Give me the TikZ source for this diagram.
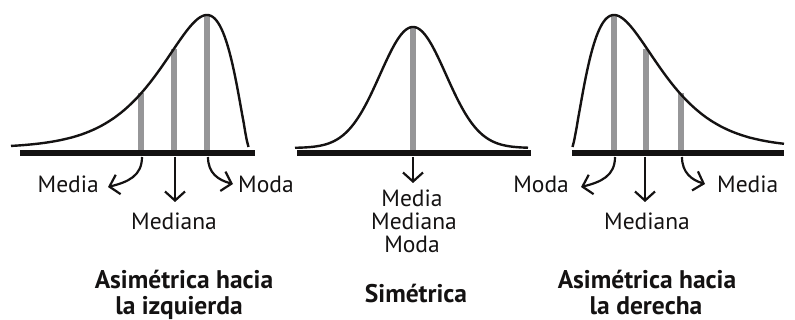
\documentclass[tikz,border=0pt]{standalone}
\usepackage{fontspec}
\setmainfont{PT Sans}
\usetikzlibrary{arrows.meta}
\definecolor{markgray}{RGB}{150,150,152}
\definecolor{inkblack}{RGB}{20,18,18}
\begin{document}
\begin{tikzpicture}[x=1pt,y=-1pt,
  curve/.style={line width=2.4pt, draw=inkblack, line join=round},
  axisbar/.style={line width=6pt, draw=inkblack},
  marker/.style={line width=5.5pt, draw=markgray},
  pointer/.style={line width=2.2pt, draw=inkblack, -{Straight Barb[length=9pt,width=20pt]}},
  lbl/.style={font=\fontsize{23.5}{25}\selectfont, text=inkblack, inner sep=0pt},
  ttl/.style={font=\bfseries\fontsize{25.5}{26}\selectfont, text=inkblack, inner sep=0pt}]
\useasboundingbox (0,0) rectangle (795,320);

% ---------- left panel: skewed left ----------
\draw[marker] (141,151) -- (141,93);
\draw[marker] (174,151) -- (174,49);
\draw[marker] (207,151) -- (207,15);
\draw[curve] plot[domain=0.5:238, samples=150] ({249-\x},{148-133*pow(\x/42,1.42)*exp(1.42*(1-\x/42))});
\draw[axisbar] (20,153) -- (255,153);

\coordinate (ls1) at (142,157);
\coordinate (ls2) at (175,157);
\coordinate (ls3) at (208,157);
\coordinate (le1) at (108,187);
\coordinate (le2) at (175,202);
\coordinate (le3) at (233,184);
\draw[pointer] (ls1) .. controls (142,176) and (128,182) .. (le1);
\draw[pointer] (ls2) -- (le2);
\draw[pointer] (ls3) .. controls (208,173) and (218,180) .. (le3);

\node[lbl, anchor=base east] (lmedia) at (99,193) {Media};
\node[lbl, anchor=base] (lmediana) at (174,230) {Mediana};
\node[lbl, anchor=base west] (lmoda) at (238,193) {Moda};

\node[ttl, anchor=base] (lt1) at (184,289) {Asimétrica hacia};
\node[ttl, anchor=base] (lt2) at (179,314) {la izquierda};

% ---------- middle panel: symmetric ----------
\draw[marker] (413,151) -- (413,27);
\draw[curve] plot[domain=295:528, samples=150] (\x,{148-121*exp(-(\x-413)*(\x-413)/2178)});
\draw[axisbar] (297,153) -- (531,153);

\coordinate (ms) at (413,157);
\coordinate (me) at (413,183);
\draw[pointer] (ms) -- (me);

\node[lbl, anchor=base] (mmedia) at (412,207) {Media};
\node[lbl, anchor=base] (mmediana) at (414,230) {Mediana};
\node[lbl, anchor=base] (mmoda) at (412,253) {Moda};

\node[ttl, anchor=base] (mt) at (416,302) {Simétrica};

% ---------- right panel: skewed right ----------
\draw[marker] (614,151) -- (614,15);
\draw[marker] (646,151) -- (646,49);
\draw[marker] (681,151) -- (681,93);
\draw[curve] plot[domain=0.5:212, samples=150] ({572+\x},{148-133*pow(\x/42,1.42)*exp(1.42*(1-\x/42))});
\draw[axisbar] (572,153) -- (784,153);

\coordinate (rs1) at (615,157);
\coordinate (rs2) at (645,157);
\coordinate (rs3) at (682,157);
\coordinate (re1) at (581,187);
\coordinate (re2) at (645,202);
\coordinate (re3) at (705,184);
\draw[pointer] (rs1) .. controls (615,176) and (601,182) .. (re1);
\draw[pointer] (rs2) -- (re2);
\draw[pointer] (rs3) .. controls (682,173) and (692,180) .. (re3);

\node[lbl, anchor=base east] (rmoda) at (569,193) {Moda};
\node[lbl, anchor=base] (rmediana) at (647,230) {Mediana};
\node[lbl, anchor=base west] (rmedia) at (717,193) {Media};

\node[ttl, anchor=base] (rt1) at (647,289) {Asimétrica hacia};
\node[ttl, anchor=base] (rt2) at (646,314) {la derecha};
\end{tikzpicture}
\end{document}
